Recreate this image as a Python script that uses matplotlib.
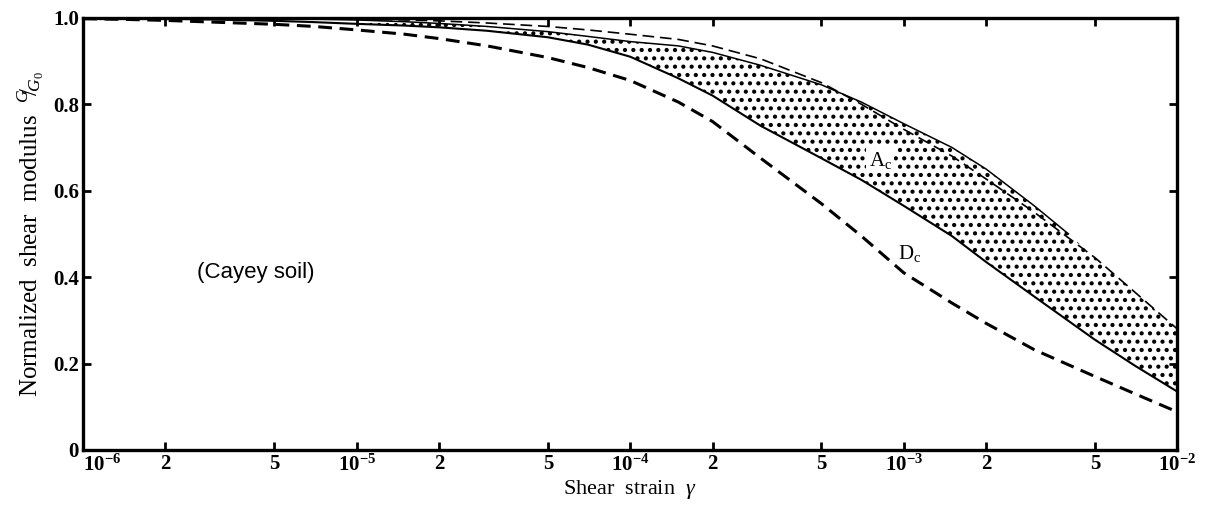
import matplotlib
matplotlib.use('Agg')
import matplotlib.pyplot as plt
from matplotlib.ticker import FixedLocator, FixedFormatter, NullLocator

plt.rcParams['font.family'] = ['Liberation Serif', 'DejaVu Serif']
plt.rcParams['mathtext.fontset'] = 'custom'
plt.rcParams['mathtext.rm'] = 'Liberation Serif'
plt.rcParams['mathtext.it'] = 'Liberation Serif:italic'
plt.rcParams['mathtext.bf'] = 'Liberation Serif:bold'
plt.rcParams['hatch.linewidth'] = 1.8

# shear strain grid (log spaced)
strain = [1e-6, 1.5e-6, 2e-6, 3e-6, 5e-6, 7e-6,
          1e-5, 1.5e-5, 2e-5, 3e-5, 5e-5, 7e-5,
          1e-4, 1.5e-4, 2e-4, 3e-4, 5e-4, 7e-4,
          1e-3, 1.5e-3, 2e-3, 3e-3, 5e-3, 7e-3, 1e-2]

# lower dashed curve (D_c)
g_dc = [0.998, 0.996, 0.994, 0.990, 0.985, 0.980,
        0.972, 0.962, 0.952, 0.935, 0.908, 0.885,
        0.855, 0.805, 0.760, 0.675, 0.570, 0.495,
        0.410, 0.340, 0.293, 0.232, 0.170, 0.130, 0.088]

# lower edge of the A_c band (solid)
g_ac_low = [1.000, 0.999, 0.998, 0.996, 0.993, 0.990,
            0.986, 0.982, 0.978, 0.970, 0.955, 0.938,
            0.910, 0.860, 0.820, 0.750, 0.675, 0.625,
            0.565, 0.495, 0.435, 0.355, 0.255, 0.195, 0.135]

# upper dashed curve
g_up_dash = [1.000, 1.000, 1.000, 0.999, 0.999, 0.998,
             0.997, 0.995, 0.993, 0.988, 0.980, 0.972,
             0.962, 0.950, 0.935, 0.905, 0.850, 0.800,
             0.742, 0.680, 0.627, 0.550, 0.445, 0.365, 0.280]

# upper edge of the A_c band (solid), runs into the dashed curve
strain_up = [1e-6, 1.5e-6, 2e-6, 3e-6, 5e-6, 7e-6,
             1e-5, 1.5e-5, 2e-5, 3e-5, 5e-5, 7e-5,
             1e-4, 1.5e-4, 2e-4, 3e-4, 5e-4, 7e-4,
             1e-3, 1.5e-3, 2e-3, 3e-3, 4e-3]
g_ac_up = [1.000, 1.000, 1.000, 0.999, 0.998, 0.997,
           0.995, 0.991, 0.987, 0.980, 0.968, 0.957,
           0.945, 0.935, 0.920, 0.890, 0.845, 0.805,
           0.755, 0.700, 0.650, 0.565, 0.500]

xticks = [1e-6, 2e-6, 5e-6, 1e-5, 2e-5, 5e-5, 1e-4, 2e-4, 5e-4,
          1e-3, 2e-3, 5e-3, 1e-2]
xticklabels = [r'$\mathbf{10^{-6}}$', '2', '5', r'$\mathbf{10^{-5}}$', '2', '5',
               r'$\mathbf{10^{-4}}$', '2', '5', r'$\mathbf{10^{-3}}$', '2', '5',
               r'$\mathbf{10^{-2}}$']
yticks = [0, 0.2, 0.4, 0.6, 0.8, 1.0]
yticklabels = ['0', '0.2', '0.4', '0.6', '0.8', '1.0']

fig = plt.figure(figsize=(12.05, 5.09), dpi=100)
ax = fig.add_axes([0.069, 0.116, 0.908, 0.849])

# stippled band: lower solid edge, back along the upper solid edge,
# then the dashed curve beyond the point where they join
tail = [i for i, s in enumerate(strain) if s > strain_up[-1]]
band_x = strain + [strain[i] for i in tail][::-1] + strain_up[::-1]
band_y = g_ac_low + [g_up_dash[i] for i in tail][::-1] + g_ac_up[::-1]
ax.fill(band_x, band_y, facecolor='none', edgecolor='black',
        linewidth=0, hatch='..')

ax.plot(strain_up, g_ac_up, color='black', lw=1.1)
ax.plot(strain, g_ac_low, color='black', lw=1.5)
ax.plot(strain, g_up_dash, color='black', lw=1.2, dashes=(7, 3.5))
ax.plot(strain, g_dc, color='black', lw=2.2, dashes=(4.5, 2.5))

ax.set_xscale('log')
ax.set_xlim(1e-6, 1e-2)
ax.set_ylim(0, 1.0)

ax.xaxis.set_major_locator(FixedLocator(xticks))
ax.xaxis.set_major_formatter(FixedFormatter(xticklabels))
ax.xaxis.set_minor_locator(NullLocator())
ax.set_yticks(yticks)
ax.set_yticklabels(yticklabels)

ax.tick_params(direction='in', top=True, right=True, length=6, width=2,
               labelsize=15, pad=3)
for lab in ax.get_xticklabels() + ax.get_yticklabels():
    lab.set_fontweight('bold')
ax.get_xticklabels()[0].set_horizontalalignment('left')

for sp in ax.spines.values():
    sp.set_linewidth(2.4)

ax.set_xlabel(r'Shear  strain  $\gamma$', fontsize=16, labelpad=2)
ax.set_ylabel(r'Normalized  shear  modulus  ${}^{G}\!\!/\!{}_{G_0}$',
              fontsize=18, labelpad=5)

ax.text(8.2e-4, 0.67, r'A$_\mathrm{c}$', fontsize=15, ha='center', va='center',
        bbox=dict(facecolor='white', edgecolor='none', pad=1.5))
ax.text(1.05e-3, 0.455, r'D$_\mathrm{c}$', fontsize=15, ha='center', va='center')
ax.text(2.6e-6, 0.41, '(Cayey soil)', fontsize=16, ha='left', va='center',
        family='Liberation Sans')

fig.savefig('out.png', dpi=100)
